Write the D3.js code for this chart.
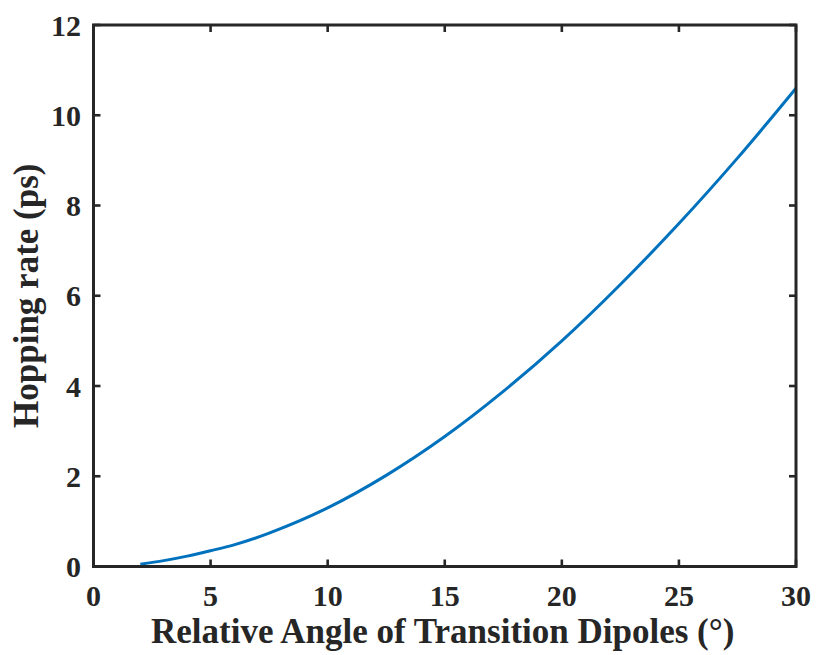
<!DOCTYPE html>
<html>
<head>
<meta charset="utf-8">
<script src="https://cdn.jsdelivr.net/npm/d3@7"></script>
<style>
  body { margin: 0; background: #fff; }
  svg text { font-family: "Liberation Serif", "Times New Roman", serif; font-weight: bold; fill: #262626; }
</style>
</head>
<body>
<div id="canvas"></div>
<script>
var WIDTH = 817, HEIGHT = 655;
var MARGIN = {left: 93.5, right: 21, top: 25, bottom: 88.5};
var AXIS_COLOR = '#262626';
var LINE_COLOR = '#0072BD';
var TICK_LEN = 7;

// values
var angles = [2, 3, 4, 5, 6, 7.5, 10, 12.5, 15, 17.5, 20, 22.5, 25, 27.5, 30];
var rates = [0.05, 0.13, 0.23, 0.35, 0.48, 0.74, 1.3, 2.02, 2.88, 3.88, 5.0, 6.25, 7.6, 9.05, 10.6];
var xTicks = [0, 5, 10, 15, 20, 25, 30];
var yTicks = [0, 2, 4, 6, 8, 10, 12];
var xLabel = 'Relative Angle of Transition Dipoles (\u00B0)';
var yLabel = 'Hopping rate (ps)';

var svg = d3.select('#canvas').append('svg')
    .attr('width', WIDTH)
    .attr('height', HEIGHT);

var x = d3.scaleLinear().domain([0, 30]).range([MARGIN.left, WIDTH - MARGIN.right]);
var y = d3.scaleLinear().domain([0, 12]).range([HEIGHT - MARGIN.bottom, MARGIN.top]);

var data = angles.map(function(a, i) { return [a, rates[i]]; });

var line = d3.line()
    .x(function(d) { return x(d[0]); })
    .y(function(d) { return y(d[1]); })
    .curve(d3.curveCatmullRom);

svg.append('path')
    .datum(data)
    .attr('d', line)
    .attr('fill', 'none')
    .attr('stroke', LINE_COLOR)
    .attr('stroke-width', 3);

// ticks, inward on all four sides
var g = svg.append('g').attr('stroke', AXIS_COLOR).attr('stroke-width', 2.6);
xTicks.forEach(function(t) {
    g.append('line').attr('x1', x(t)).attr('x2', x(t))
        .attr('y1', y(0)).attr('y2', y(0) - TICK_LEN);
    g.append('line').attr('x1', x(t)).attr('x2', x(t))
        .attr('y1', y(12)).attr('y2', y(12) + TICK_LEN);
});
yTicks.forEach(function(t) {
    g.append('line').attr('x1', x(0)).attr('x2', x(0) + TICK_LEN)
        .attr('y1', y(t)).attr('y2', y(t));
    g.append('line').attr('x1', x(30)).attr('x2', x(30) - TICK_LEN)
        .attr('y1', y(t)).attr('y2', y(t));
});

// box
svg.append('rect')
    .attr('x', x(0)).attr('y', y(12))
    .attr('width', x(30) - x(0)).attr('height', y(0) - y(12))
    .attr('fill', 'none')
    .attr('stroke', AXIS_COLOR)
    .attr('stroke-width', 3);

// tick labels
svg.selectAll('.xt').data(xTicks).enter().append('text')
    .attr('class', 'xt')
    .attr('x', function(d) { return x(d); })
    .attr('y', 606)
    .attr('text-anchor', 'middle')
    .style('font-size', '30px')
    .text(function(d) { return d; });

svg.selectAll('.yt').data(yTicks).enter().append('text')
    .attr('class', 'yt')
    .attr('x', 81)
    .attr('y', function(d) { return y(d) + 10.5; })
    .attr('text-anchor', 'end')
    .style('font-size', '30px')
    .text(function(d) { return d; });

// axis labels
svg.append('text')
    .attr('x', (x(0) + x(30)) / 2 - 2)
    .attr('y', 643)
    .attr('text-anchor', 'middle')
    .style('font-size', '35px')
    .text(xLabel);

svg.append('text')
    .attr('transform', 'translate(38,' + ((y(0) + y(12)) / 2) + ') rotate(-90)')
    .attr('text-anchor', 'middle')
    .style('font-size', '35px')
    .text(yLabel);
</script>
</body>
</html>
